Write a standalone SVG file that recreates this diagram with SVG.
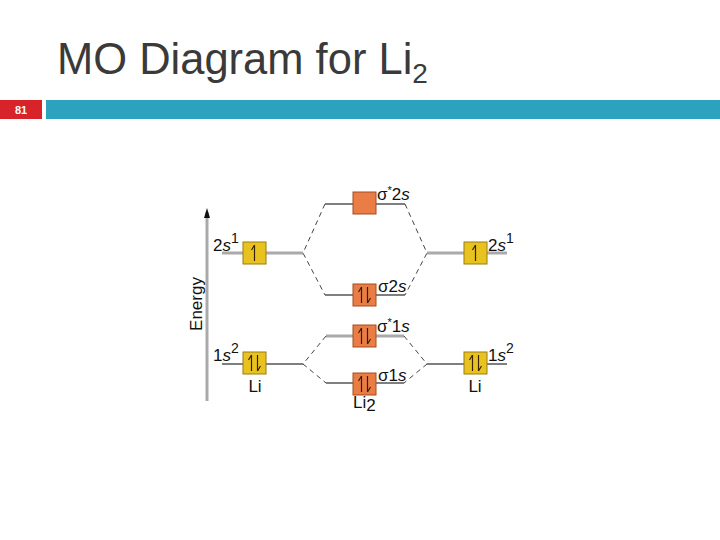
<svg xmlns="http://www.w3.org/2000/svg" width="720" height="540" viewBox="0 0 720 540">
<defs>
<style>
.t{font-family:"Liberation Sans",Arial,sans-serif;fill:#111;font-size:17px}
.sup{font-size:14px}
.lt{stroke:#aaa;stroke-width:3;fill:none}
.dk{stroke:#555;stroke-width:1.3;fill:none}
.ds{stroke:#444;stroke-width:1;stroke-dasharray:5,4;fill:none}
.y{fill:#e8c31f;stroke:#9a7c10;stroke-width:1}
.o{fill:#e97d45;stroke:#a24f22;stroke-width:1}
.ar{stroke:#3a2000;stroke-width:1.2;fill:none}
</style>
<g id="up"><path class="ar" d="M0,8 V-8 M0,-8 L-3,-3"/></g>
<g id="pair"><path class="ar" d="M-3,8 V-8 M-3,-8 L-6,-3 M3,-8 V8 M3,8 L6,3"/></g>
</defs>
<rect width="720" height="540" fill="#fff"/>
<g id="header">
<text x="57" y="74" font-family="Liberation Sans,Arial,sans-serif" font-size="43.5" fill="#3a3a3a">MO Diagram for Li<tspan font-size="28" dy="9">2</tspan></text>
<rect x="0" y="100" width="42" height="19" fill="#d9232a"/>
<text x="21" y="114" text-anchor="middle" font-family="Liberation Sans,Arial,sans-serif" font-size="11" font-weight="bold" fill="#fff">81</text>
<rect x="46" y="100" width="674" height="19" fill="#2da2bf"/>
</g>
<g id="axis">
<line x1="207" y1="401" x2="207" y2="212" stroke="#aaa" stroke-width="3"/>
<path d="M207,208 L210,218 L204,218 Z" fill="#111"/>
<text class="t" transform="translate(202,304) rotate(-90)" text-anchor="middle">Energy</text>
</g>
<g id="connectors">
<line class="lt" x1="222" y1="253" x2="303" y2="253"/>
<line class="lt" x1="427" y1="253" x2="507" y2="253"/>
<line class="dk" x1="325" y1="204" x2="405" y2="204"/>
<line class="dk" x1="325" y1="295" x2="405" y2="295"/>
<line class="dk" x1="222" y1="364" x2="303" y2="364"/>
<line class="dk" x1="427" y1="364" x2="507" y2="364"/>
<line class="lt" x1="326" y1="336" x2="404" y2="336"/>
<line class="dk" x1="326" y1="383" x2="404" y2="383"/>
<path class="ds" d="M325,204 L303,253 L325,295"/>
<path class="ds" d="M405,204 L427,253 L405,295"/>
<path class="ds" d="M326,336 L303,364 L326,383"/>
<path class="ds" d="M404,336 L427,364 L404,383"/>
</g>
<g id="li-left-2s">
<rect class="y" x="243" y="242" width="23" height="22"/>
<use href="#up" x="254.5" y="253"/>
<text class="t" x="213" y="251">2<tspan font-style="italic">s</tspan><tspan class="sup" dy="-8">1</tspan></text>
</g>
<g id="li-right-2s">
<rect class="y" x="464" y="242" width="23" height="22"/>
<use href="#up" x="475.5" y="253"/>
<text class="t" x="488" y="251">2<tspan font-style="italic">s</tspan><tspan class="sup" dy="-8">1</tspan></text>
</g>
<g id="sigma-star-2s">
<rect class="o" x="353" y="192" width="23" height="22"/>
<text class="t" x="377" y="200">σ<tspan font-size="11" dy="-6">*</tspan><tspan dy="6">2</tspan><tspan font-style="italic">s</tspan></text>
</g>
<g id="sigma-2s">
<rect class="o" x="353" y="284" width="23" height="22"/>
<use href="#pair" x="364.5" y="295"/>
<text class="t" x="378" y="292">σ2<tspan font-style="italic">s</tspan></text>
</g>
<g id="sigma-star-1s">
<rect class="o" x="353" y="325" width="23" height="22"/>
<use href="#pair" x="364.5" y="336"/>
<text class="t" x="377" y="332">σ<tspan font-size="11" dy="-6">*</tspan><tspan dy="6">1</tspan><tspan font-style="italic">s</tspan></text>
</g>
<g id="sigma-1s">
<rect class="o" x="353" y="373" width="23" height="22"/>
<use href="#pair" x="364.5" y="384"/>
<text class="t" x="378" y="381">σ1<tspan font-style="italic">s</tspan></text>
<text class="t" x="353" y="408">Li<tspan dy="3">2</tspan></text>
</g>
<g id="li-left-1s">
<rect class="y" x="243" y="352" width="23" height="22"/>
<use href="#pair" x="254.5" y="363"/>
<text class="t" x="213" y="361">1<tspan font-style="italic">s</tspan><tspan class="sup" dy="-8">2</tspan></text>
<text class="t" x="255" y="392" text-anchor="middle">Li</text>
</g>
<g id="li-right-1s">
<rect class="y" x="464" y="352" width="23" height="22"/>
<use href="#pair" x="475.5" y="363"/>
<text class="t" x="488" y="361">1<tspan font-style="italic">s</tspan><tspan class="sup" dy="-8">2</tspan></text>
<text class="t" x="475" y="392" text-anchor="middle">Li</text>
</g>
</svg>
